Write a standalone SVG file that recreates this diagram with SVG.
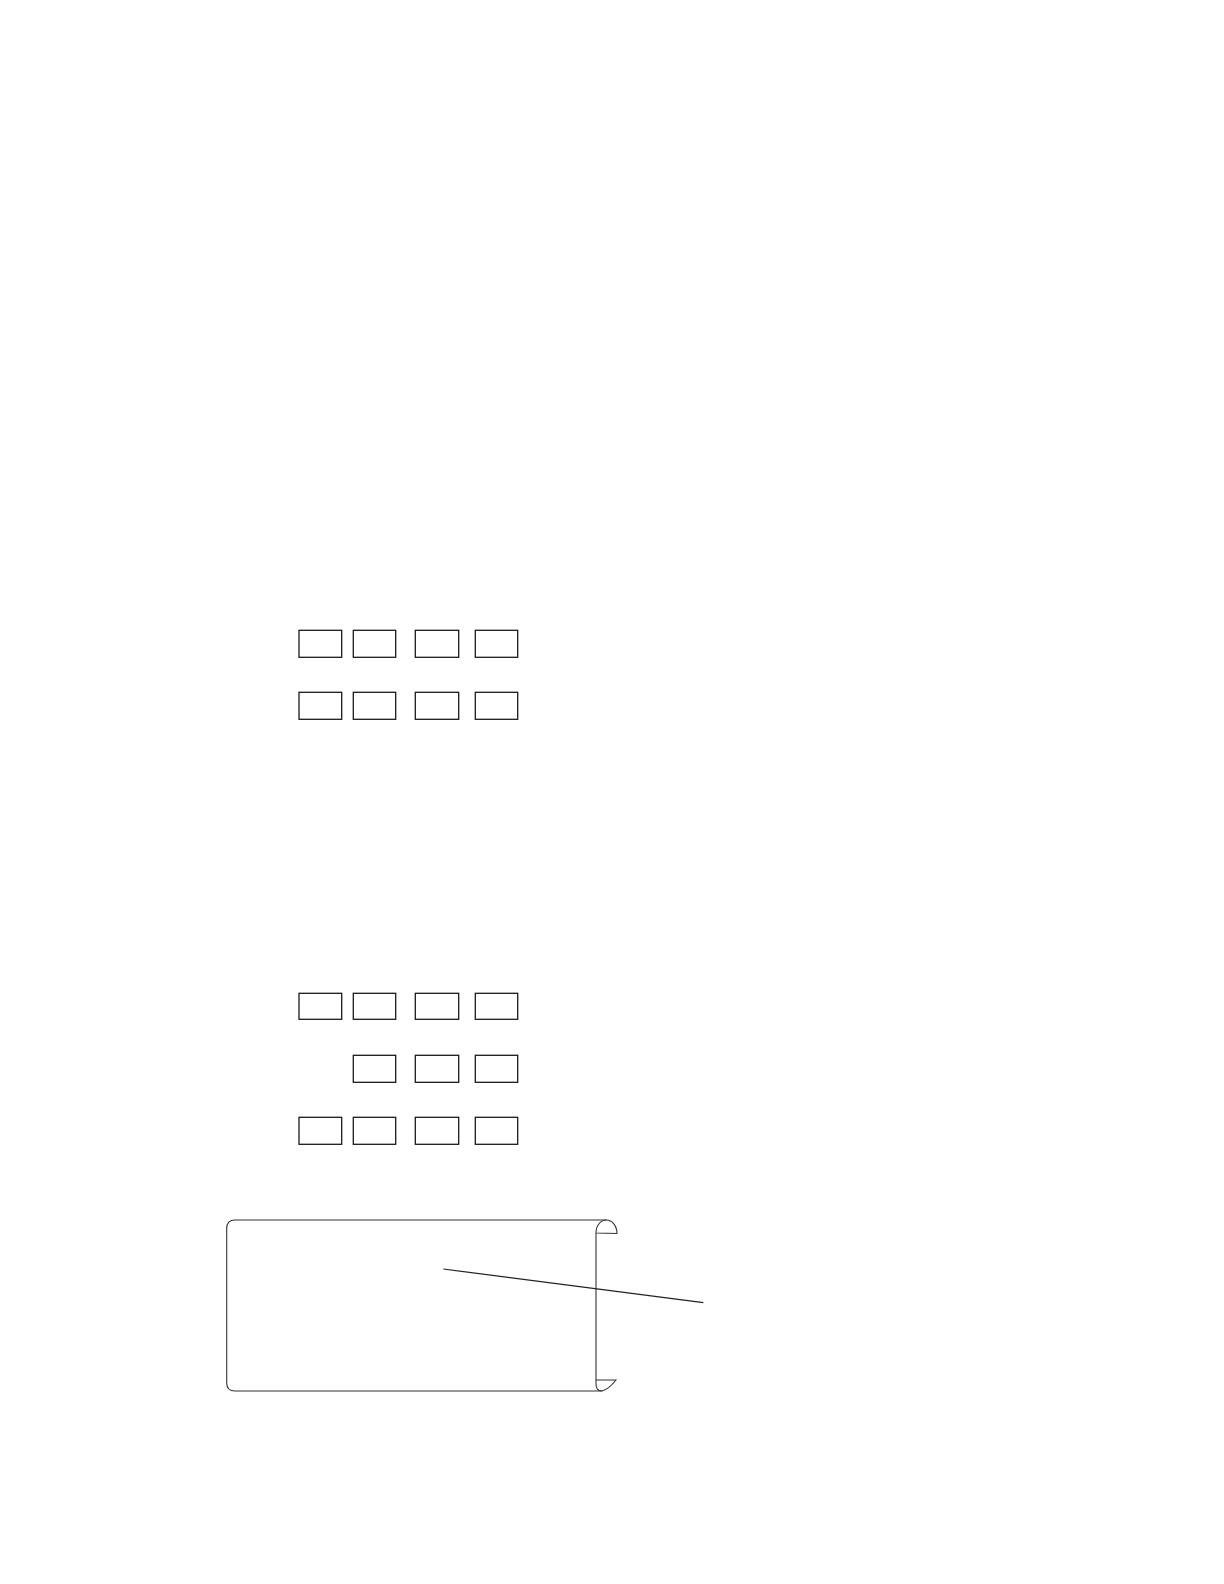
<svg xmlns="http://www.w3.org/2000/svg" width="1224" height="1584" viewBox="0 0 1224 1584">
<style>
.b{fill:#fff;stroke:#1a1a1a;stroke-width:1.3}
.s{fill:none;stroke:#333;stroke-width:1.1}
.c{fill:none;stroke:#222;stroke-width:1.2}
</style>
<rect width="1224" height="1584" fill="#fff"/>
<g id="row1">
<rect id="n1" class="b" x="299" y="630.3" width="42.7" height="27"/>
<rect id="n2" class="b" x="353.3" y="630.3" width="42.4" height="27"/>
<rect id="n3" class="b" x="415.3" y="630.3" width="43.4" height="27"/>
<rect id="n4" class="b" x="475.3" y="630.3" width="42.4" height="27"/>
</g>
<g id="row2">
<rect id="n5" class="b" x="299" y="692.3" width="42.7" height="27"/>
<rect id="n6" class="b" x="353.3" y="692.3" width="42.4" height="27"/>
<rect id="n7" class="b" x="415.3" y="692.3" width="43.4" height="27"/>
<rect id="n8" class="b" x="475.3" y="692.3" width="42.4" height="27"/>
</g>
<g id="row3">
<rect id="n9" class="b" x="299" y="993.3" width="42.7" height="26"/>
<rect id="n10" class="b" x="353.3" y="993.3" width="42.4" height="26"/>
<rect id="n11" class="b" x="415.3" y="993.3" width="43.4" height="26"/>
<rect id="n12" class="b" x="475.3" y="993.3" width="42.4" height="26"/>
</g>
<g id="row4">
<rect id="n13" class="b" x="353.3" y="1055.3" width="42.4" height="27"/>
<rect id="n14" class="b" x="415.3" y="1055.3" width="43.4" height="27"/>
<rect id="n15" class="b" x="475.3" y="1055.3" width="42.4" height="27"/>
</g>
<g id="row5">
<rect id="n16" class="b" x="299" y="1117.3" width="42.7" height="27"/>
<rect id="n17" class="b" x="353.3" y="1117.3" width="42.4" height="27"/>
<rect id="n18" class="b" x="415.3" y="1117.3" width="43.4" height="27"/>
<rect id="n19" class="b" x="475.3" y="1117.3" width="42.4" height="27"/>
</g>
<g id="scroll">
<path class="s" d="M606.5,1220 L235,1220 Q226.7,1220 226.7,1228.5 L226.7,1383 Q226.7,1391 235,1391 L602,1391"/>
<path class="s" d="M596,1233 C596,1225 601,1220 606.5,1220 C612,1220 617,1226 617,1233.5 L596,1233"/>
<path class="s" d="M596,1233 L596,1384 Q596,1391 602,1391 Q609,1389 616,1380 L596,1380"/>
</g>
<g id="connectors">
<line class="c" x1="443.3" y1="1269" x2="703.3" y2="1302.7"/>
</g>
</svg>
